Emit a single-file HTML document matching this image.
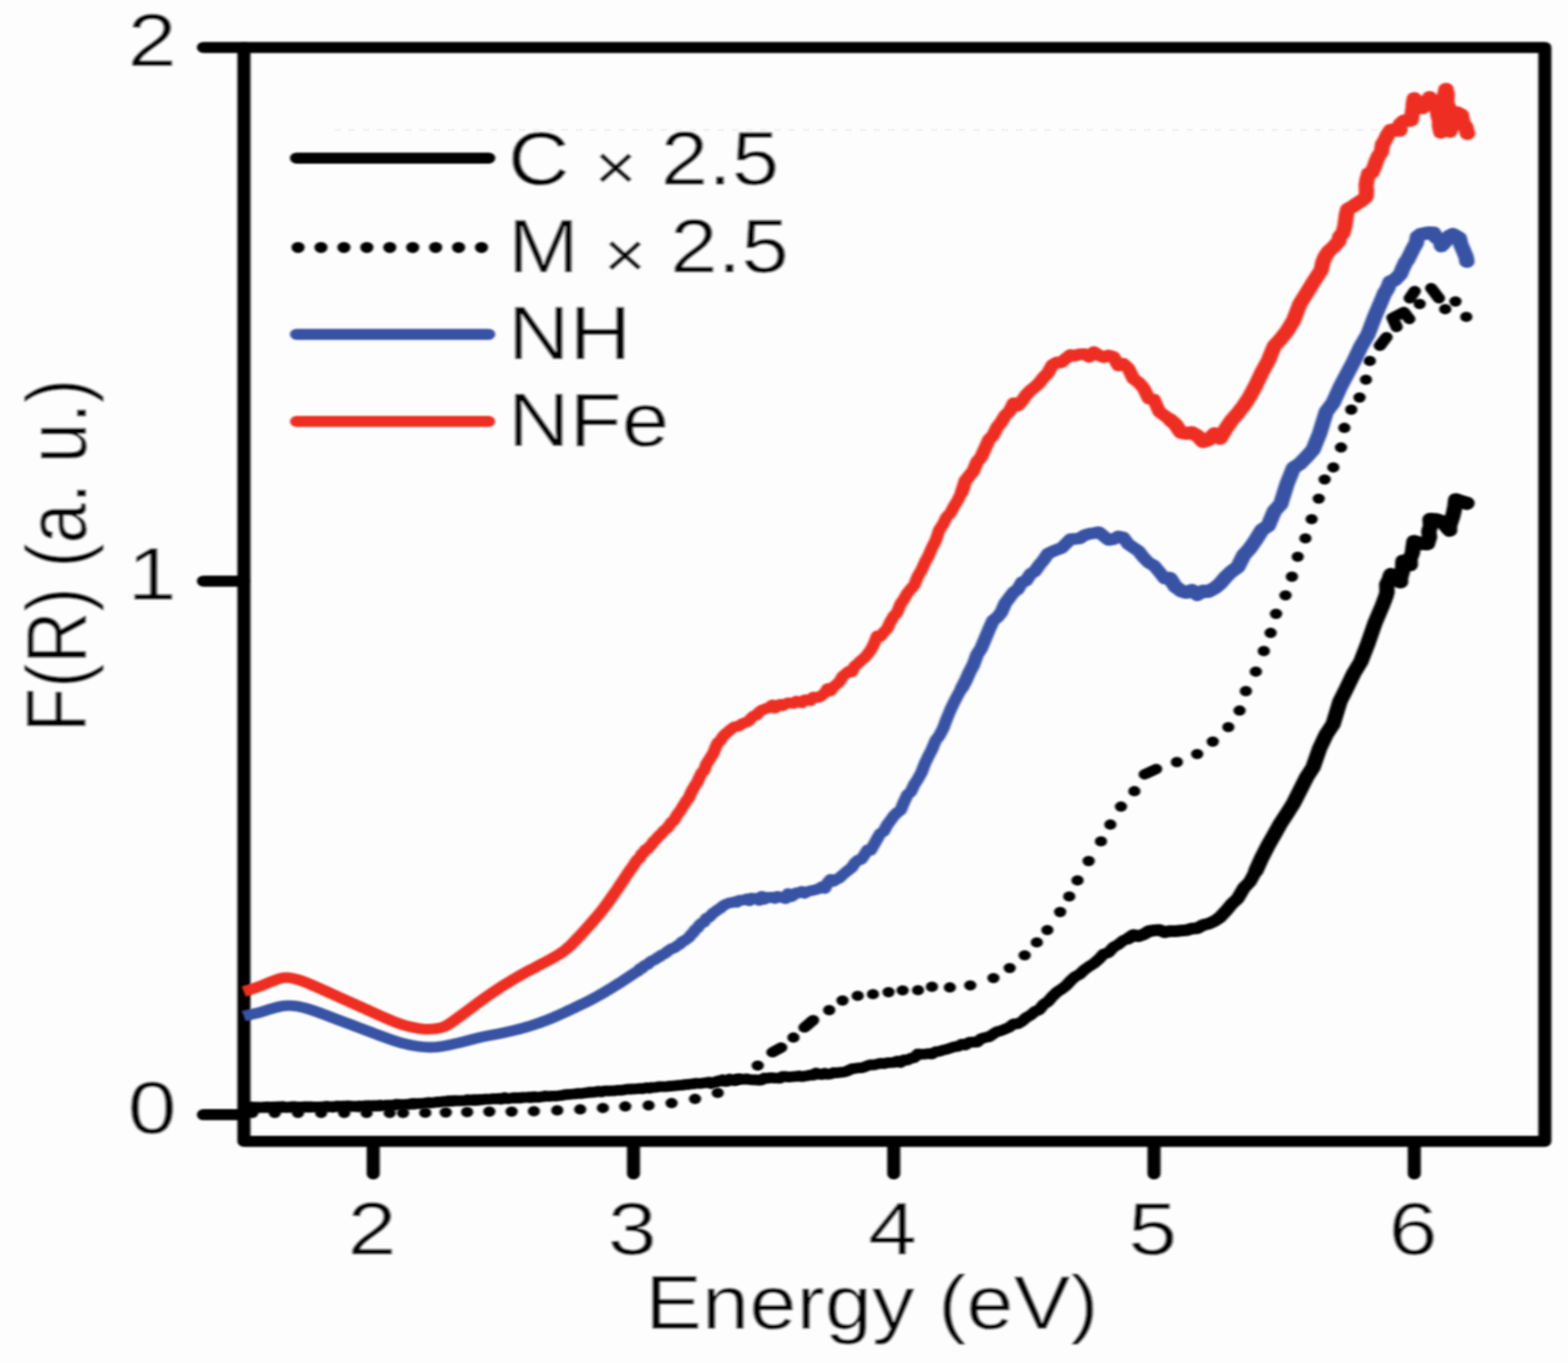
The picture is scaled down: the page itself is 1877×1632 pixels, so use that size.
<!DOCTYPE html>
<html lang="en"><head><meta charset="utf-8"><title>F(R) vs Energy</title>
<style>html,body{margin:0;padding:0;background:#fdfdfd;}body{width:1877px;height:1632px;overflow:hidden;}svg{display:block;}text{font-family:"Liberation Sans",Arial,Helvetica,sans-serif;fill:#000;stroke:#fdfdfd;stroke-width:0.5px;paint-order:fill stroke;}</style>
</head><body>
<svg width="1877" height="1632" viewBox="0 0 1877 1632">
<defs><filter id="b" x="-5%" y="-5%" width="110%" height="110%"><feGaussianBlur stdDeviation="1.18644 1.05"/></filter><filter id="b2" x="-5%" y="-5%" width="110%" height="110%"><feGaussianBlur stdDeviation="1.4 1.05"/></filter></defs>
<rect width="1877" height="1632" fill="#fdfdfd"/>
<path d="M400 155.5H1650" fill="none" stroke="#f4f4f4" stroke-width="3" stroke-dasharray="8 9"/>
<g transform="scale(1.18,1)" filter="url(#b)" fill="none" stroke-linejoin="round">
<g stroke="#000" stroke-width="13.3" stroke-linecap="round">
<rect x="247.46" y="56.80" width="1319.75" height="1309.80"/>
<path d="M378.64 1366.60 V1405.50M642.67 1366.60 V1405.50M906.69 1366.60 V1405.50M1170.72 1366.60 V1405.50M1434.75 1366.60 V1405.50M247.46 56.80 H206.36M247.46 695.80 H206.36M247.46 1334.70 H206.36"/>
</g>
<path d="M255.9 1332.6 h0.01M278.8 1332.6 h0.01M302.3 1332.6 h0.01M325.8 1332.6 h0.01M349.2 1332.6 h0.01M371.9 1332.6 h0.01M395.3 1332.6 h0.01M408.9 1332.6 h0.01M431.4 1332.4 h0.01M452.2 1332.0 h0.01M473.9 1331.5 h0.01M496.4 1331.0 h0.01M519.0 1331.0 h0.01M541.6 1330.5 h0.01M565.3 1329.5 h0.01M588.6 1328.3 h0.01M611.6 1326.7 h0.01M634.3 1324.8 h0.01M658.0 1323.6 h0.01M681.3 1320.8 h0.01M705.1 1315.8 h0.01M728.1 1308.6 h0.01M748.3 1293.0 h0.01M768.7 1275.9 h0.01M783.6 1259.9L792.5 1254.3M804.9 1242.3 h0.01M816.1 1230.3L824.9 1221.5M841.2 1209.5 h0.01M854.7 1198.0 h0.01M870.1 1192.4 h0.01M885.6 1190.4 h0.01M901.4 1188.0 h0.01M915.7 1185.9 h0.01M931.3 1185.6 h0.01M945.4 1181.5 h0.01M963.6 1182.3 h0.01M984.3 1179.9 h0.01M1007.8 1171.1 h0.01M1024.3 1159.1 h0.01M1039.5 1143.9 h0.01M1051.8 1128.4 h0.01M1062.5 1113.6 h0.01M1075.5 1092.0 h0.01M1084.7 1073.4 h0.01M1093.1 1054.2 h0.01M1104.4 1031.0 h0.01M1116.9 1007.4 h0.01M1126.4 987.3 h0.01M1137.2 965.8 h0.01M1150.8 947.3 h0.01M1161.3 927.2L1172.8 920.8M1193.9 912.5 h0.01M1214.5 902.9 h0.01M1230.3 888.0 h0.01M1246.1 870.6 h0.01M1257.5 850.8 h0.01M1263.9 827.5 h0.01M1274.0 804.2 h0.01M1282.1 779.5 h0.01M1289.0 757.8 h0.01M1294.5 735.0 h0.01M1304.1 712.9 h0.01M1310.6 690.5 h0.01M1316.5 666.6 h0.01M1324.3 644.6 h0.01M1330.6 621.6 h0.01M1337.8 597.1 h0.01M1343.8 574.1 h0.01M1352.6 559.7 h0.01M1360.4 535.8 h0.01M1363.8 512.3 h0.01M1370.8 490.5 h0.01M1379.2 476.0 h0.01M1385.7 454.6 h0.01M1389.6 432.2 h0.01M1399.8 414.0L1406.6 403.6M1416.8 391.5L1412.7 380.5L1424.2 373.5L1429.7 382.0M1430.1 357.2L1435.2 348.5M1440.2 364.0 h0.01M1451.9 345.0L1459.7 357.2M1466.1 370.2 h0.01M1476.5 361.0 h0.01M1487.5 379.4 h0.01" stroke="#000" stroke-width="12.4" stroke-linecap="round"/>
<g stroke-width="13.3" stroke-linecap="round">
<path d="M300.85 189.3H495.76" stroke="#000"/>
<path d="M302.37 296.3H488.98" stroke="#000" stroke-dasharray="0 23.263"/>
<path d="M300.85 400.3H495.76" stroke="#3953a4"/>
<path d="M300.85 504.6H495.76" stroke="#ee2e24"/>
</g>
</g>
<g transform="scale(1.18,1)" filter="url(#b)" fill="none" stroke-linejoin="round">
<path d="M247.3 1216.5L247.9 1216.3L248.4 1216.2L248.9 1216.1L249.4 1216.0L249.9 1215.8L250.3 1215.7L250.8 1215.6L251.3 1215.5L251.8 1215.4L252.3 1215.2L252.8 1215.1L253.3 1215.0L253.8 1214.9L254.3 1214.7L254.8 1214.6L255.3 1214.5L255.8 1214.3L256.3 1214.2L256.8 1214.1L257.3 1213.9L257.8 1213.8L258.3 1213.7L258.8 1213.5L259.3 1213.4L259.8 1213.3L260.3 1213.1L260.9 1213.0L261.4 1212.8L261.9 1212.7L262.4 1212.5L262.9 1212.4L263.4 1212.2L264.0 1212.0L264.5 1211.9L265.0 1211.7L265.5 1211.5L266.1 1211.3L266.6 1211.1L267.1 1210.9L267.7 1210.7L268.2 1210.5L268.7 1210.3L269.3 1210.1L269.8 1209.9L270.3 1209.7L270.9 1209.5L271.4 1209.2L271.9 1209.0L272.5 1208.8L273.0 1208.6L273.6 1208.4L274.1 1208.2L274.7 1208.0L275.2 1207.9L275.8 1207.7L276.3 1207.5L276.9 1207.3L277.4 1207.2L278.0 1207.0L278.6 1206.8L279.1 1206.6L279.7 1206.4L280.2 1206.3L280.8 1206.1L281.4 1205.9L281.9 1205.7L282.5 1205.6L283.1 1205.4L283.7 1205.3L284.2 1205.1L284.8 1205.0L285.4 1204.9L286.0 1204.7L286.5 1204.6L287.1 1204.5L287.7 1204.4L288.3 1204.4L288.9 1204.3L289.5 1204.3L290.0 1204.2L290.6 1204.2L291.2 1204.2L291.8 1204.1L292.4 1204.1L293.0 1204.1L293.6 1204.1L294.2 1204.1L294.8 1204.2L295.4 1204.2L296.0 1204.2L296.6 1204.3L297.2 1204.3L297.8 1204.4L298.5 1204.4L299.1 1204.5L299.7 1204.6L300.3 1204.7L300.9 1204.8L301.5 1204.9L302.2 1205.0L302.8 1205.1L303.4 1205.3L304.0 1205.4L304.7 1205.6L305.3 1205.7L305.9 1205.9L306.6 1206.1L307.2 1206.2L307.8 1206.4L308.5 1206.6L309.1 1206.8L309.8 1207.0L310.4 1207.3L311.1 1207.5L311.7 1207.7L312.4 1207.9L313.0 1208.2L313.7 1208.4L314.3 1208.7L315.0 1208.9L315.6 1209.2L316.3 1209.4L317.0 1209.7L317.6 1210.0L318.3 1210.2L319.0 1210.5L319.6 1210.8L320.3 1211.0L321.0 1211.3L321.7 1211.6L322.3 1211.9L323.0 1212.2L323.7 1212.5L324.4 1212.7L325.1 1213.0L325.8 1213.3L326.5 1213.7L327.1 1214.0L327.8 1214.3L328.5 1214.6L329.2 1214.9L329.9 1215.2L330.6 1215.5L331.3 1215.8L332.1 1216.2L332.8 1216.5L333.5 1216.8L334.2 1217.1L334.9 1217.5L335.6 1217.8L336.3 1218.1L337.1 1218.4L337.8 1218.8L338.5 1219.1L339.2 1219.4L340.0 1219.8L340.7 1220.1L341.4 1220.4L342.2 1220.7L342.9 1221.1L343.7 1221.4L344.4 1221.7L345.1 1222.1L345.9 1222.4L346.6 1222.7L347.4 1223.1L348.1 1223.4L348.9 1223.7L349.7 1224.1L350.4 1224.4L351.2 1224.7L352.0 1225.1L352.7 1225.4L353.5 1225.8L354.3 1226.1L355.0 1226.5L355.8 1226.8L356.6 1227.1L357.4 1227.5L358.2 1227.8L359.0 1228.2L359.8 1228.5L360.5 1228.9L361.3 1229.2L362.1 1229.6L362.9 1229.9L363.7 1230.3L364.6 1230.7L365.4 1231.0L366.2 1231.4L367.0 1231.7L367.8 1232.1L368.6 1232.5L369.4 1232.8L370.3 1233.2L371.1 1233.6L371.9 1234.0L372.7 1234.3L373.6 1234.7L374.4 1235.1L375.3 1235.5L376.1 1235.8L376.9 1236.2L377.8 1236.6L378.6 1237.0L379.5 1237.4L380.4 1237.7L381.2 1238.1L382.1 1238.5L382.9 1238.9L383.8 1239.3L384.7 1239.7L385.5 1240.1L386.4 1240.4L387.3 1240.8L388.2 1241.2L389.1 1241.6L390.0 1242.0L390.8 1242.3L391.7 1242.7L392.6 1243.1L393.5 1243.5L394.4 1243.8L395.3 1244.2L396.2 1244.6L397.2 1245.0L398.1 1245.4L399.0 1245.7L399.9 1246.1L400.8 1246.5L401.8 1246.8L402.7 1247.2L403.6 1247.5L404.6 1247.8L405.5 1248.2L406.4 1248.5L407.4 1248.8L408.3 1249.1L409.3 1249.4L410.2 1249.6L411.2 1249.9L412.2 1250.2L413.1 1250.5L414.1 1250.7L415.1 1251.0L416.0 1251.2L417.0 1251.5L418.0 1251.7L419.0 1251.9L420.0 1252.1L421.0 1252.3L422.0 1252.5L423.0 1252.7L424.0 1252.8L425.0 1253.0L426.0 1253.1L427.0 1253.3L428.0 1253.4L429.0 1253.5L430.0 1253.6L431.1 1253.7L432.1 1253.8L433.1 1253.9L434.2 1253.9L435.2 1254.0L436.3 1254.0L437.3 1254.0L438.4 1254.0L439.4 1253.9L440.5 1253.9L441.6 1253.8L442.6 1253.7L443.7 1253.6L444.8 1253.4L445.9 1253.3L446.9 1253.1L448.0 1252.9L449.1 1252.7L450.2 1252.5L451.3 1252.2L452.4 1252.0L453.5 1251.7L454.6 1251.5L455.8 1251.2L456.9 1250.9L458.0 1250.6L459.1 1250.3L460.3 1250.0L461.4 1249.7L462.5 1249.4L463.7 1249.1L464.8 1248.8L466.0 1248.5L467.1 1248.2L468.3 1247.8L469.5 1247.5L470.7 1247.1L471.8 1246.8L473.0 1246.4L474.2 1246.0L475.4 1245.7L476.6 1245.3L477.8 1244.9L479.0 1244.5L480.2 1244.2L481.4 1243.8L482.6 1243.4L483.8 1243.1L485.1 1242.7L486.3 1242.4L487.5 1242.0L488.8 1241.7L490.0 1241.4L491.3 1241.1L492.5 1240.8L493.8 1240.5L495.1 1240.2L496.3 1239.9L497.6 1239.6L498.9 1239.3L500.2 1239.1L501.5 1238.8L502.8 1238.5L504.1 1238.2L505.4 1237.9L506.7 1237.6L508.0 1237.3L509.3 1237.0L510.7 1236.6L512.0 1236.3L513.3 1235.9L514.7 1235.6L516.0 1235.2L517.4 1234.8L518.7 1234.5L520.1 1234.1L521.5 1233.7L522.9 1233.3L524.2 1232.9L525.6 1232.5L527.0 1232.1L528.4 1231.6L529.8 1231.2L531.2 1230.7L532.7 1230.3L534.1 1229.8L535.5 1229.3L536.9 1228.7L538.4 1228.2L539.8 1227.7L541.3 1227.1L542.8 1226.5L544.2 1226.0L545.7 1225.4L547.2 1224.7L548.7 1224.1L550.1 1223.5L551.6 1222.8L553.2 1222.2L554.7 1221.5L556.2 1220.8L557.7 1220.1L559.2 1219.3L560.8 1218.6L562.3 1217.8L563.9 1217.0L565.4 1216.2L567.0 1215.4L568.6 1214.6L570.1 1213.7L571.7 1212.9L573.3 1212.0L574.9 1211.1L576.5 1210.2L578.1 1209.3L579.8 1208.4L581.4 1207.5L583.0 1206.6L584.7 1205.6L586.3 1204.7L588.0 1203.8L589.6 1202.8L591.3 1201.9L593.0 1200.9L594.7 1199.9L596.4 1198.9L598.1 1197.9L599.8 1196.9L601.5 1195.8L603.2 1194.7L605.0 1193.6L606.7 1192.5L608.4 1191.3L610.2 1190.1L612.0 1188.9L613.7 1187.7L615.5 1186.4L617.3 1185.2L619.1 1183.9L620.9 1182.6L622.7 1181.2L624.6 1179.9L626.4 1178.5L628.2 1177.2L630.1 1175.8L632.0 1174.4L633.8 1172.9L635.7 1171.5L637.6 1170.0L639.5 1168.5L641.4 1166.9L643.3 1165.4L645.2 1163.9L647.2 1163.1L649.1 1159.9L651.1 1159.6L653.0 1157.0L655.0 1155.3L657.0 1155.1L659.0 1152.3L661.0 1150.6L663.0 1149.7L665.0 1148.7L667.0 1146.6L669.1 1145.8L671.1 1143.4L673.2 1142.6L675.3 1141.1L677.3 1139.0L679.4 1137.4L681.5 1135.7L683.7 1135.1L685.8 1133.5L687.9 1131.7L690.1 1130.2L692.2 1127.4L694.4 1126.3L696.6 1124.4L698.8 1122.6L701.0 1119.1L703.2 1116.8L705.4 1113.0L707.6 1111.3L709.9 1107.3L712.1 1105.1L714.4 1104.1L716.7 1099.2L719.0 1098.8L721.3 1096.0L723.6 1093.1L726.0 1091.3L728.3 1089.2L730.7 1087.6L733.1 1085.0L735.4 1083.3L737.8 1082.1L740.2 1080.9L742.7 1080.9L745.1 1079.7L747.6 1080.5L750.0 1077.9L752.5 1077.9L755.0 1077.5L757.5 1076.3L760.0 1078.7L762.5 1075.3L765.1 1076.2L767.7 1075.6L770.2 1078.1L772.8 1073.1L775.4 1076.8L778.0 1074.3L780.7 1074.9L783.3 1074.1L786.0 1075.7L788.7 1073.2L791.4 1074.4L794.1 1074.6L796.8 1076.1L799.6 1069.8L802.3 1073.9L805.1 1072.0L807.9 1068.9L810.7 1069.0L813.5 1067.3L816.3 1069.6L819.2 1067.5L822.1 1066.6L825.0 1066.0L827.9 1065.2L830.8 1064.1L833.8 1061.7L836.7 1063.9L839.7 1057.0L842.7 1052.8L845.7 1055.2L848.7 1052.9L851.8 1051.1L854.9 1047.6L858.0 1044.4L861.1 1041.5L864.2 1038.7L867.3 1033.2L870.5 1029.7L873.7 1029.1L876.9 1023.6L880.1 1017.7L883.4 1017.9L886.6 1011.3L889.9 1004.2L893.2 997.8L896.6 995.3L899.9 988.0L903.3 982.6L906.7 977.0L910.1 973.0L913.6 970.1L917.0 960.5L920.5 951.6L924.0 948.2L927.5 939.4L931.1 932.8L934.7 925.3L938.3 914.1L941.9 905.4L945.5 897.1L949.2 886.5L952.9 880.9L956.6 872.7L960.4 860.8L964.2 850.0L968.0 840.6L971.8 832.0L975.7 823.8" stroke="#3953a4" stroke-width="12.8" stroke-linecap="butt"/>
<path d="M975.7 823.8L979.5 815.5L983.4 805.2L987.4 796.2L991.3 783.6L995.3 776.3L999.3 765.1L1003.4 753.5L1007.5 742.9L1011.6 739.2L1015.7 733.4L1019.8 722.3L1024.0 715.7L1028.3 709.1L1032.5 705.6L1036.8 697.1L1041.1 695.1L1045.5 687.2L1049.8 684.1L1054.2 676.8L1058.7 670.5L1063.2 662.8L1067.7 660.3L1072.2 658.2L1076.8 656.3L1081.4 651.0L1086.0 645.6L1090.7 645.3L1095.4 644.6L1100.2 640.9L1105.0 639.2L1109.8 638.3L1114.7 637.2L1119.6 641.8L1124.5 646.6L1129.5 645.7L1134.5 642.2L1139.5 643.5L1144.6 651.6L1149.8 655.7L1154.9 659.8L1160.2 667.6L1165.4 673.9L1170.7 677.2L1176.1 684.8L1181.5 692.7L1186.9 692.4" stroke="#3953a4" stroke-width="14" stroke-linecap="round"/>
<path d="M1186.9 692.4L1192.4 702.4L1197.9 707.3L1203.5 709.3L1209.1 706.9L1214.7 711.9L1220.4 707.9L1226.2 708.1L1232.0 704.3L1237.8 698.8L1243.7 690.6L1249.7 683.9L1255.7 678.9L1261.8 664.6L1267.9 656.7L1274.0 646.4L1280.3 634.4L1286.5 629.6L1292.8 611.8L1299.2 603.7L1305.7 579.3L1312.2 560.2L1318.7 555.3L1325.3 547.3L1332.0 538.6L1338.7 519.0L1345.5 492.9L1352.4 482.2L1359.3 464.2L1366.3 448.4L1373.3 432.9L1380.5 415.0L1387.6 400.8L1394.9 378.1L1402.5 357.2L1404.8 350.7L1407.5 345.7L1410.3 337.3L1414.8 335.3L1420.7 328.1L1422.5 322.7L1425.8 314.3L1427.9 311.0L1431.1 303.7L1433.6 297.5L1436.8 291.0L1438.0 283.4L1441.4 280.6L1448.9 278.9L1454.4 279.1L1456.6 284.2L1461.1 286.9L1462.2 294.4L1466.3 289.2L1470.4 282.7L1473.9 280.6L1480.4 285.2L1482.1 293.3L1484.3 299.0L1487.4 308.1L1488.1 312.8" stroke="#3953a4" stroke-width="15.6" stroke-linecap="round"/>
<path d="M1488.1 312.8 h0.01" stroke="#3953a4" stroke-width="15.6" stroke-linecap="round"/>
<path d="M247.3 1187.3L247.9 1187.1L248.4 1186.9L248.9 1186.7L249.4 1186.5L249.9 1186.3L250.3 1186.2L250.8 1186.0L251.3 1185.8L251.8 1185.6L252.3 1185.4L252.8 1185.2L253.3 1185.1L253.8 1184.9L254.3 1184.7L254.8 1184.5L255.3 1184.3L255.8 1184.1L256.3 1183.9L256.8 1183.7L257.3 1183.5L257.8 1183.3L258.3 1183.2L258.8 1183.0L259.3 1182.8L259.8 1182.6L260.3 1182.3L260.9 1182.1L261.4 1181.9L261.9 1181.7L262.4 1181.5L262.9 1181.3L263.4 1181.1L264.0 1180.8L264.5 1180.6L265.0 1180.4L265.5 1180.1L266.1 1179.9L266.6 1179.6L267.1 1179.3L267.7 1179.1L268.2 1178.8L268.7 1178.5L269.3 1178.3L269.8 1178.0L270.3 1177.7L270.9 1177.4L271.4 1177.2L271.9 1176.9L272.5 1176.6L273.0 1176.3L273.6 1176.1L274.1 1175.8L274.7 1175.6L275.2 1175.3L275.8 1175.1L276.3 1174.9L276.9 1174.6L277.4 1174.4L278.0 1174.2L278.6 1173.9L279.1 1173.7L279.7 1173.4L280.2 1173.2L280.8 1172.9L281.4 1172.7L281.9 1172.4L282.5 1172.2L283.1 1172.0L283.7 1171.8L284.2 1171.6L284.8 1171.4L285.4 1171.2L286.0 1171.1L286.5 1170.9L287.1 1170.8L287.7 1170.7L288.3 1170.7L288.9 1170.6L289.5 1170.6L290.0 1170.6L290.6 1170.6L291.2 1170.6L291.8 1170.6L292.4 1170.7L293.0 1170.7L293.6 1170.8L294.2 1170.9L294.8 1171.0L295.4 1171.1L296.0 1171.2L296.6 1171.4L297.2 1171.5L297.8 1171.7L298.5 1171.9L299.1 1172.0L299.7 1172.2L300.3 1172.4L300.9 1172.6L301.5 1172.8L302.2 1173.0L302.8 1173.2L303.4 1173.4L304.0 1173.7L304.7 1173.9L305.3 1174.1L305.9 1174.4L306.6 1174.7L307.2 1174.9L307.8 1175.2L308.5 1175.5L309.1 1175.8L309.8 1176.1L310.4 1176.4L311.1 1176.7L311.7 1177.0L312.4 1177.4L313.0 1177.7L313.7 1178.0L314.3 1178.4L315.0 1178.7L315.6 1179.0L316.3 1179.4L317.0 1179.7L317.6 1180.1L318.3 1180.4L319.0 1180.7L319.6 1181.1L320.3 1181.4L321.0 1181.8L321.7 1182.1L322.3 1182.5L323.0 1182.8L323.7 1183.2L324.4 1183.5L325.1 1183.9L325.8 1184.2L326.5 1184.6L327.1 1185.0L327.8 1185.3L328.5 1185.7L329.2 1186.1L329.9 1186.4L330.6 1186.8L331.3 1187.2L332.1 1187.6L332.8 1188.0L333.5 1188.3L334.2 1188.7L334.9 1189.1L335.6 1189.5L336.3 1189.9L337.1 1190.3L337.8 1190.6L338.5 1191.0L339.2 1191.4L340.0 1191.8L340.7 1192.2L341.4 1192.6L342.2 1193.0L342.9 1193.4L343.7 1193.8L344.4 1194.2L345.1 1194.6L345.9 1195.0L346.6 1195.4L347.4 1195.8L348.1 1196.2L348.9 1196.6L349.7 1197.0L350.4 1197.4L351.2 1197.8L352.0 1198.2L352.7 1198.6L353.5 1199.0L354.3 1199.4L355.0 1199.8L355.8 1200.2L356.6 1200.7L357.4 1201.1L358.2 1201.5L359.0 1201.9L359.8 1202.3L360.5 1202.8L361.3 1203.2L362.1 1203.6L362.9 1204.0L363.7 1204.5L364.6 1204.9L365.4 1205.3L366.2 1205.8L367.0 1206.2L367.8 1206.6L368.6 1207.1L369.4 1207.5L370.3 1207.9L371.1 1208.4L371.9 1208.8L372.7 1209.3L373.6 1209.7L374.4 1210.2L375.3 1210.6L376.1 1211.1L376.9 1211.5L377.8 1212.0L378.6 1212.4L379.5 1212.9L380.4 1213.4L381.2 1213.8L382.1 1214.3L382.9 1214.7L383.8 1215.2L384.7 1215.6L385.5 1216.1L386.4 1216.6L387.3 1217.0L388.2 1217.5L389.1 1217.9L390.0 1218.4L390.8 1218.8L391.7 1219.3L392.6 1219.7L393.5 1220.2L394.4 1220.6L395.3 1221.1L396.2 1221.6L397.2 1222.0L398.1 1222.5L399.0 1222.9L399.9 1223.4L400.8 1223.8L401.8 1224.2L402.7 1224.6L403.6 1225.0L404.6 1225.4L405.5 1225.8L406.4 1226.2L407.4 1226.6L408.3 1226.9L409.3 1227.3L410.2 1227.6L411.2 1227.9L412.2 1228.2L413.1 1228.5L414.1 1228.8L415.1 1229.1L416.0 1229.4L417.0 1229.6L418.0 1229.9L419.0 1230.1L420.0 1230.4L421.0 1230.6L422.0 1230.8L423.0 1231.1L424.0 1231.3L425.0 1231.5L426.0 1231.7L427.0 1231.8L428.0 1232.0L429.0 1232.1L430.0 1232.2L431.1 1232.3L432.1 1232.3L433.1 1232.3L434.2 1232.3L435.2 1232.3L436.3 1232.2L437.3 1232.2L438.4 1232.1L439.4 1232.0L440.5 1231.9L441.6 1231.8L442.6 1231.6L443.7 1231.4L444.8 1231.2L445.9 1230.9L446.9 1230.7L448.0 1230.3L449.1 1229.9L450.2 1229.4L451.3 1228.9L452.4 1228.3L453.5 1227.6L454.6 1226.8L455.8 1226.0L456.9 1225.1L458.0 1224.2L459.1 1223.3L460.3 1222.4L461.4 1221.5L462.5 1220.5L463.7 1219.5L464.8 1218.5L466.0 1217.5L467.1 1216.5L468.3 1215.5L469.5 1214.5L470.7 1213.4L471.8 1212.4L473.0 1211.3L474.2 1210.3L475.4 1209.3L476.6 1208.2L477.8 1207.2L479.0 1206.1L480.2 1205.1L481.4 1204.0L482.6 1202.9L483.8 1201.9L485.1 1200.8L486.3 1199.7L487.5 1198.6L488.8 1197.6L490.0 1196.5L491.3 1195.4L492.5 1194.4L493.8 1193.3L495.1 1192.3L496.3 1191.2L497.6 1190.2L498.9 1189.2L500.2 1188.1L501.5 1187.1L502.8 1186.1L504.1 1185.1L505.4 1184.1L506.7 1183.0L508.0 1182.0L509.3 1181.0L510.7 1180.0L512.0 1179.0L513.3 1178.1L514.7 1177.1L516.0 1176.1L517.4 1175.1L518.7 1174.2L520.1 1173.2L521.5 1172.2L522.9 1171.3L524.2 1170.3L525.6 1169.4L527.0 1168.4L528.4 1167.5L529.8 1166.6L531.2 1165.7L532.7 1164.7L534.1 1163.8L535.5 1162.9L536.9 1162.0L538.4 1161.1L539.8 1160.3L541.3 1159.4L542.8 1158.5L544.2 1157.5L545.7 1156.6L547.2 1155.7L548.7 1154.8L550.1 1153.8L551.6 1152.9L553.2 1152.0L554.7 1151.1L556.2 1150.1L557.7 1149.2L559.2 1148.2L560.8 1147.2L562.3 1146.2L563.9 1145.1L565.4 1144.0L567.0 1142.9L568.6 1141.7L570.1 1140.4L571.7 1139.1L573.3 1137.7L574.9 1136.2L576.5 1134.5L578.1 1132.8L579.8 1131.0L581.4 1129.0L583.0 1127.0L584.7 1125.0L586.3 1122.9L588.0 1120.9L589.6 1118.8L591.3 1116.6L593.0 1114.4L594.7 1112.2L596.4 1110.0L598.1 1107.7L599.8 1105.4L601.5 1103.1L603.2 1100.7L605.0 1098.4L606.7 1096.0L608.4 1093.5L610.2 1091.0L612.0 1088.3L613.7 1085.6L615.5 1082.8L617.3 1079.9L619.1 1076.9L620.9 1073.9L622.7 1070.8L624.6 1067.7L626.4 1064.6L628.2 1061.3L630.1 1058.0L632.0 1054.7L633.8 1051.4L635.7 1048.1L637.6 1044.8L639.5 1041.6L641.4 1038.4L643.3 1035.4L645.2 1031.6L647.2 1028.8L649.1 1027.2L651.1 1022.4L653.0 1021.2L655.0 1017.0L657.0 1016.7L659.0 1013.4L661.0 1011.6L663.0 1007.7L665.0 1005.8L667.0 1002.9L669.1 1000.2L671.1 998.5L673.2 995.1L675.3 993.1L677.3 991.1L679.4 987.6L681.5 984.2L683.7 982.8L685.8 978.0L687.9 974.1L690.1 971.0L692.2 966.7L694.4 962.8L696.6 958.5L698.8 955.5L701.0 949.3L703.2 944.5L705.4 940.1L707.6 936.3L709.9 930.0L712.1 925.0L714.4 922.4L716.7 914.8L719.0 910.7L721.3 906.3L723.6 902.3L726.0 894.9L728.3 889.1L730.7 887.1L733.1 882.6L735.4 879.4L737.8 877.1L740.2 874.5L742.7 872.3L745.1 870.1L747.6 870.0L750.0 869.0L752.5 866.9L755.0 865.5L757.5 864.9L760.0 862.8L762.5 859.4L765.1 857.0L767.7 856.3L770.2 852.5L772.8 850.2L775.4 849.4L778.0 848.0L780.7 847.2L783.3 844.0L786.0 848.1L788.7 845.5L791.4 843.3L794.1 844.9L796.8 843.0L799.6 841.5L802.3 841.8L805.1 842.4L807.9 839.4L810.7 840.5L813.5 841.6L816.3 837.9L819.2 838.4L822.1 839.1L825.0 834.6L827.9 834.8L830.8 835.0L833.8 832.7L836.7 829.9L839.7 824.4L842.7 827.3L845.7 822.2L848.7 819.5L851.8 816.0L854.9 809.9L858.0 806.9L861.1 803.8L864.2 804.5L867.3 797.4L870.5 794.5L873.7 790.7L876.9 787.8L880.1 783.4L883.4 778.3L886.6 771.2L889.9 761.4L893.2 762.2L896.6 756.9L899.9 753.1L903.3 744.7L906.7 737.8L910.1 733.5L913.6 723.3L917.0 717.5L920.5 710.4L924.0 705.2L927.5 700.7L931.1 690.1L934.7 683.0L938.3 673.5L941.9 665.7L945.5 655.9L949.2 647.4L952.9 634.5L956.6 628.0L960.4 619.0L964.2 614.4L968.0 606.0L971.8 598.6L975.7 589.3" stroke="#ee2e24" stroke-width="12.8" stroke-linecap="butt"/>
<path d="M975.7 589.3L979.5 575.4L983.4 569.7L987.4 564.0L991.3 552.9L995.3 547.5L999.3 537.1L1003.4 526.2L1007.5 521.4L1011.6 511.6L1015.7 505.5L1019.8 497.4L1024.0 492.8L1028.3 482.8L1032.5 485.9L1036.8 480.1L1041.1 472.9L1045.5 467.4L1049.8 463.6L1054.2 458.7L1058.7 452.0L1063.2 446.6L1067.7 437.1L1072.2 434.0L1076.8 433.9L1081.4 429.2L1086.0 425.1L1090.7 425.9L1095.4 424.2L1100.2 423.9L1105.0 427.3L1109.8 421.5L1114.7 425.4L1119.6 427.7L1124.5 425.6L1129.5 427.1L1134.5 437.7L1139.5 435.6L1144.6 441.0L1149.8 453.5L1154.9 457.8L1160.2 464.9L1165.4 477.2L1170.7 478.6L1176.1 493.1L1181.5 497.7L1186.9 502.5" stroke="#ee2e24" stroke-width="14" stroke-linecap="round"/>
<path d="M1186.9 502.5L1192.4 508.1L1197.9 517.6L1203.5 519.0L1209.1 518.0L1214.7 521.7L1220.4 528.7L1226.2 526.6L1232.0 519.3L1237.8 524.9L1243.7 513.3L1249.7 503.0L1255.7 495.0L1261.8 485.8L1267.9 474.8L1274.0 461.3L1280.3 445.6L1286.5 432.3L1292.8 414.3L1299.2 406.1L1305.7 396.4L1312.2 383.8L1318.7 363.9L1325.3 351.5L1332.0 338.6L1340.4 323.3L1341.9 314.3L1344.5 306.9L1347.7 301.3L1353.3 295.3L1358.1 289.0L1359.1 283.6L1362.5 278.8L1364.3 270.6L1365.2 263.6L1365.8 257.4L1367.3 250.5L1372.8 247.0L1377.5 243.0L1381.5 240.1L1385.8 235.6L1386.3 229.0L1385.9 222.0L1386.9 214.8L1388.5 208.1L1391.7 206.8L1394.7 198.2L1396.3 192.7L1398.2 187.6L1401.5 181.4L1402.5 173.1L1405.2 167.7L1407.8 161.3L1410.8 156.0L1414.8 155.6L1420.2 156.0L1420.6 148.8L1424.3 145.0L1431.6 143.7L1432.7 135.9L1433.6 129.0L1433.7 125.0L1434.7 118.0L1438.0 122.5L1443.0 129.0L1448.5 121.9L1450.3 116.8L1453.3 122.1L1457.5 129.0L1458.6 136.3L1460.4 144.8L1460.3 150.5L1461.7 158.4L1461.3 148.9L1462.6 144.8L1464.0 137.5L1465.4 128.8L1467.0 120.9L1465.6 113.7L1466.9 107.0L1468.3 114.0L1467.5 122.0L1469.5 128.4L1469.0 137.2L1470.6 144.2L1469.8 150.4L1471.0 157.2L1473.7 147.3L1476.8 142.6L1478.3 135.1L1482.5 137.6L1484.3 148.2L1486.8 151.3L1488.7 159.7" stroke="#ee2e24" stroke-width="15.6" stroke-linecap="round"/>
<path d="M1488.7 159.7 h0.01" stroke="#ee2e24" stroke-width="15.6" stroke-linecap="round"/>
<path d="M247.5 1326.1L247.9 1326.0L248.4 1326.2L248.9 1326.0L249.4 1326.0L249.9 1325.8L250.3 1326.0L250.8 1326.4L251.3 1326.2L251.8 1326.4L252.3 1326.1L252.8 1326.1L253.3 1326.1L253.8 1325.5L254.3 1326.3L254.8 1326.2L255.3 1326.1L255.8 1325.5L256.3 1325.5L256.8 1325.7L257.3 1325.8L257.8 1326.1L258.3 1326.0L258.8 1326.1L259.3 1325.8L259.8 1326.0L260.3 1326.1L260.9 1325.7L261.4 1326.4L261.9 1326.1L262.4 1326.3L262.9 1325.7L263.4 1325.7L264.0 1325.8L264.5 1325.9L265.0 1326.1L265.5 1326.0L266.1 1325.8L266.6 1325.6L267.1 1325.7L267.7 1326.2L268.2 1325.6L268.7 1325.9L269.3 1326.0L269.8 1325.4L270.3 1325.9L270.9 1326.2L271.4 1325.2L271.9 1325.7L272.5 1325.8L273.0 1325.6L273.6 1326.0L274.1 1325.8L274.7 1325.4L275.2 1326.0L275.8 1326.0L276.3 1326.1L276.9 1326.2L277.4 1325.9L278.0 1325.8L278.6 1325.4L279.1 1325.9L279.7 1325.6L280.2 1325.6L280.8 1325.4L281.4 1325.5L281.9 1325.6L282.5 1326.1L283.1 1325.1L283.7 1325.3L284.2 1325.8L284.8 1326.1L285.4 1325.9L286.0 1325.1L286.5 1324.9L287.1 1325.8L287.7 1325.5L288.3 1325.3L288.9 1326.0L289.5 1326.0L290.0 1325.7L290.6 1325.7L291.2 1325.8L291.8 1326.1L292.4 1325.8L293.0 1325.8L293.6 1325.8L294.2 1325.1L294.8 1326.0L295.4 1325.9L296.0 1325.8L296.6 1325.0L297.2 1325.4L297.8 1325.8L298.5 1325.0L299.1 1325.5L299.7 1325.9L300.3 1325.2L300.9 1326.0L301.5 1325.7L302.2 1325.5L302.8 1325.6L303.4 1325.7L304.0 1325.5L304.7 1325.8L305.3 1325.3L305.9 1325.4L306.6 1325.8L307.2 1325.5L307.8 1325.2L308.5 1325.7L309.1 1325.9L309.8 1325.3L310.4 1325.0L311.1 1325.4L311.7 1325.4L312.4 1325.3L313.0 1325.8L313.7 1325.1L314.3 1325.8L315.0 1325.0L315.6 1325.1L316.3 1325.6L317.0 1325.7L317.6 1325.6L318.3 1325.4L319.0 1325.4L319.6 1325.4L320.3 1325.5L321.0 1325.3L321.7 1325.4L322.3 1325.5L323.0 1325.3L323.7 1325.5L324.4 1325.4L325.1 1325.9L325.8 1325.3L326.5 1325.1L327.1 1325.1L327.8 1325.2L328.5 1325.5L329.2 1325.1L329.9 1325.3L330.6 1325.7L331.3 1324.4L332.1 1324.8L332.8 1325.2L333.5 1325.3L334.2 1325.2L334.9 1325.0L335.6 1325.3L336.3 1325.2L337.1 1324.9L337.8 1325.8L338.5 1325.2L339.2 1324.9L340.0 1325.0L340.7 1324.9L341.4 1325.0L342.2 1324.2L342.9 1324.8L343.7 1325.3L344.4 1324.6L345.1 1324.9L345.9 1325.2L346.6 1325.2L347.4 1325.3L348.1 1324.4L348.9 1324.8L349.7 1324.8L350.4 1325.0L351.2 1325.2L352.0 1324.0L352.7 1325.1L353.5 1324.3L354.3 1325.0L355.0 1324.3L355.8 1324.8L356.6 1325.1L357.4 1324.7L358.2 1324.7L359.0 1324.9L359.8 1324.7L360.5 1324.6L361.3 1325.1L362.1 1324.9L362.9 1324.5L363.7 1325.4L364.6 1324.2L365.4 1324.8L366.2 1324.4L367.0 1324.5L367.8 1324.7L368.6 1324.5L369.4 1324.6L370.3 1323.9L371.1 1323.9L371.9 1324.5L372.7 1324.0L373.6 1324.0L374.4 1323.8L375.3 1324.6L376.1 1324.4L376.9 1324.6L377.8 1323.9L378.6 1324.1L379.5 1323.7L380.4 1324.3L381.2 1324.5L382.1 1323.7L382.9 1324.4L383.8 1324.2L384.7 1323.8L385.5 1323.3L386.4 1324.2L387.3 1323.7L388.2 1323.6L389.1 1323.8L390.0 1323.8L390.8 1324.1L391.7 1323.3L392.6 1323.9L393.5 1323.9L394.4 1323.9L395.3 1323.3L396.2 1323.1L397.2 1323.6L398.1 1323.3L399.0 1323.2L399.9 1323.6L400.8 1323.0L401.8 1322.3L402.7 1322.8L403.6 1322.3L404.6 1323.1L405.5 1322.9L406.4 1322.5L407.4 1322.7L408.3 1322.8L409.3 1322.6L410.2 1322.9L411.2 1322.4L412.2 1322.6L413.1 1322.7L414.1 1322.7L415.1 1321.9L416.0 1322.3L417.0 1321.4L418.0 1321.6L419.0 1321.2L420.0 1322.1L421.0 1321.3L422.0 1321.6L423.0 1321.4L424.0 1321.4L425.0 1321.2L426.0 1321.3L427.0 1321.7L428.0 1321.1L429.0 1321.2L430.0 1321.2L431.1 1320.8L432.1 1320.4L433.1 1320.5L434.2 1320.9L435.2 1320.0L436.3 1320.2L437.3 1320.6L438.4 1320.4L439.4 1320.1L440.5 1320.2L441.6 1320.0L442.6 1319.5L443.7 1319.3L444.8 1319.4L445.9 1319.8L446.9 1319.3L448.0 1319.1L449.1 1319.0L450.2 1318.7L451.3 1319.0L452.4 1318.6L453.5 1319.0L454.6 1318.1L455.8 1318.8L456.9 1318.4L458.0 1317.9L459.1 1318.6L460.3 1318.3L461.4 1317.6L462.5 1317.9L463.7 1318.2L464.8 1317.9L466.0 1318.1L467.1 1318.1L468.3 1317.9L469.5 1317.8L470.7 1318.0L471.8 1317.7L473.0 1317.6L474.2 1316.7L475.4 1317.6L476.6 1317.6L477.8 1317.0L479.0 1316.9L480.2 1317.6L481.4 1316.4L482.6 1317.0L483.8 1317.5L485.1 1316.4L486.3 1316.8L487.5 1317.1L488.8 1316.4L490.0 1316.6L491.3 1316.6L492.5 1316.0L493.8 1316.2L495.1 1316.2L496.3 1316.3L497.6 1316.0L498.9 1315.8L500.2 1315.5L501.5 1315.6L502.8 1315.9L504.1 1315.6L505.4 1315.3L506.7 1315.2L508.0 1316.2L509.3 1315.7L510.7 1315.4L512.0 1314.4L513.3 1315.3L514.7 1315.2L516.0 1315.5L517.4 1315.0L518.7 1314.8L520.1 1314.9L521.5 1314.1L522.9 1314.9L524.2 1314.6L525.6 1314.2L527.0 1314.8L528.4 1314.8L529.8 1313.8L531.2 1313.9L532.7 1314.1L534.1 1314.0L535.5 1313.8L536.9 1313.5L538.4 1314.4L539.8 1314.0L541.3 1313.2L542.8 1313.1L544.2 1313.9L545.7 1313.6L547.2 1313.8L548.7 1313.4L550.1 1312.8L551.6 1313.1L553.2 1312.2L554.7 1312.6L556.2 1312.7L557.7 1312.8L559.2 1312.3L560.8 1312.4L562.3 1312.4L563.9 1312.3L565.4 1312.3L567.0 1312.0L568.6 1311.7L570.1 1311.6L571.7 1311.1L573.3 1310.6L574.9 1310.5L576.5 1310.5L578.1 1310.3L579.8 1310.2L581.4 1310.0L583.0 1309.8L584.7 1309.6L586.3 1309.1L588.0 1309.4L589.6 1309.4L591.3 1309.1L593.0 1308.7L594.7 1308.7L596.4 1308.1L598.1 1307.7L599.8 1308.1L601.5 1307.6L603.2 1307.9L605.0 1307.2L606.7 1306.6L608.4 1306.9L610.2 1307.5L612.0 1306.7L613.7 1306.2L615.5 1306.2L617.3 1306.4L619.1 1306.2L620.9 1306.0L622.7 1306.2L624.6 1305.8L626.4 1305.4L628.2 1305.4L630.1 1305.5L632.0 1305.1L633.8 1304.9L635.7 1304.1L637.6 1304.2L639.5 1304.3L641.4 1303.8L643.3 1304.0L645.2 1303.7L647.2 1303.6L649.1 1303.1L651.1 1303.7L653.0 1303.2L655.0 1302.5L657.0 1302.5L659.0 1303.0L661.0 1302.0L663.0 1302.2L665.0 1302.0L667.0 1301.5L669.1 1301.0L671.1 1301.2L673.2 1301.1L675.3 1301.1L677.3 1300.8L679.4 1300.4L681.5 1300.5L683.7 1300.2L685.8 1299.9L687.9 1299.6L690.1 1299.3L692.2 1299.4L694.4 1298.6L696.6 1298.5L698.8 1298.5L701.0 1297.8L703.2 1297.9L705.4 1297.1L707.6 1297.2L709.9 1297.3L712.1 1297.1L714.4 1296.6L716.7 1296.2L719.0 1295.6L721.3 1297.4L723.6 1295.9L726.0 1296.2L728.3 1294.1L730.7 1294.5L733.1 1292.8L735.4 1294.9L737.8 1294.8L740.2 1292.1L742.7 1293.6L745.1 1294.1L747.6 1291.8L750.0 1291.6L752.5 1292.1L755.0 1292.4L757.5 1291.6L760.0 1292.7L762.5 1292.8L765.1 1293.0L767.7 1292.9L770.2 1293.5L772.8 1293.1L775.4 1290.7L778.0 1291.2L780.7 1290.5L783.3 1290.3L786.0 1290.9L788.7 1290.8L791.4 1291.0L794.1 1288.8L796.8 1288.9L799.6 1289.7L802.3 1289.3L805.1 1289.0L807.9 1288.9L810.7 1288.1L813.5 1289.2L816.3 1288.6L819.2 1288.0L822.1 1287.2L825.0 1287.4L827.9 1284.8L830.8 1286.1L833.8 1286.7L836.7 1285.0L839.7 1286.3L842.7 1285.9L845.7 1284.2L848.7 1284.7L851.8 1284.0L854.9 1283.9L858.0 1283.1L861.1 1281.5L864.2 1279.7L867.3 1279.4L870.5 1278.6L873.7 1278.6L876.9 1277.6L880.1 1276.0L883.4 1274.8L886.6 1275.1L889.9 1274.2L893.2 1273.2L896.6 1273.5L899.9 1272.5L903.3 1272.4L906.7 1272.1L910.1 1270.5L913.6 1272.2L917.0 1269.0L920.5 1269.3L924.0 1267.1L927.5 1266.5L931.1 1262.0L934.7 1262.3L938.3 1262.2L941.9 1261.5L945.5 1262.1L949.2 1259.1L952.9 1258.9L956.6 1257.4L960.4 1256.4L964.2 1254.9L968.0 1253.3L971.8 1252.9L975.7 1250.2L979.5 1251.3L983.4 1247.9L987.4 1247.7L991.3 1247.9L995.3 1243.8L999.3 1242.2L1003.4 1241.4L1007.5 1238.2L1011.6 1235.2L1015.7 1234.1L1019.8 1232.1L1024.0 1229.9L1028.3 1225.9L1032.5 1225.8L1036.8 1223.0L1041.1 1218.4L1045.5 1215.5L1049.8 1211.2L1054.2 1209.2L1058.7 1202.6L1063.2 1199.1L1067.7 1193.0L1072.2 1187.9L1076.8 1184.4L1081.4 1180.2L1086.0 1174.4L1090.7 1169.4L1095.4 1166.5L1100.2 1161.1L1105.0 1157.0L1109.8 1153.6L1114.7 1148.6L1119.6 1142.3L1124.5 1140.7L1129.5 1134.1L1134.5 1130.9L1139.5 1126.1L1144.6 1123.7" stroke="#000" stroke-width="12.8" stroke-linecap="butt"/>
<path d="M1144.6 1123.7L1149.8 1119.5L1154.9 1120.9L1160.2 1118.8L1165.4 1115.0L1170.7 1114.0L1176.1 1113.6L1181.5 1116.3L1186.9 1114.8L1192.4 1115.0L1197.9 1114.2L1203.5 1113.8L1209.1 1111.8L1214.7 1111.4L1220.4 1107.6L1226.2 1106.0L1232.0 1102.9L1237.8 1098.2L1243.7 1090.7L1249.7 1082.2L1255.7 1075.7L1261.8 1063.3L1267.9 1055.9L1274.0 1042.7" stroke="#000" stroke-width="14" stroke-linecap="round"/>
<path d="M1274.0 1042.7L1280.3 1026.3L1286.5 1012.2L1292.8 999.1L1299.2 985.7L1305.7 974.0L1312.2 961.8L1318.7 946.6L1325.3 931.1L1332.0 918.8L1338.7 896.1L1345.5 879.2L1352.4 866.9L1359.3 840.0L1366.3 823.5L1373.3 806.3L1380.5 792.2L1387.6 770.8L1394.9 745.9L1402.2 725.7L1405.8 714.4L1407.1 708.9L1406.8 699.9L1409.5 693.1L1410.8 687.9L1415.0 693.2L1420.8 696.8L1420.9 691.4L1422.6 684.7L1423.0 677.9L1423.2 671.8L1430.7 676.2L1430.5 669.2L1432.9 661.5L1433.4 656.2L1434.4 648.2L1440.6 650.6L1448.1 651.2L1450.2 643.1L1449.5 636.3L1451.2 629.6L1450.7 621.8L1457.6 622.3L1463.1 624.7L1466.9 629.8L1470.6 635.0L1470.5 629.7L1473.8 617.8L1474.9 612.7L1475.9 606.1L1476.8 598.2L1481.3 600.1L1488.1 602.6" stroke="#000" stroke-width="15.6" stroke-linecap="round"/>
<path d="M1488.1 602.6 h0.01" stroke="#000" stroke-width="15.6" stroke-linecap="round"/>
</g>
<g filter="url(#b2)">
<text transform="translate(445.30,1501.6) scale(1.18,1)" style="font-size:89.5px" text-anchor="middle">2</text>
<text transform="translate(756.85,1501.6) scale(1.18,1)" style="font-size:89.5px" text-anchor="middle">3</text>
<text transform="translate(1068.40,1501.6) scale(1.18,1)" style="font-size:89.5px" text-anchor="middle">4</text>
<text transform="translate(1379.95,1501.6) scale(1.18,1)" style="font-size:89.5px" text-anchor="middle">5</text>
<text transform="translate(1691.50,1501.6) scale(1.18,1)" style="font-size:89.5px" text-anchor="middle">6</text>
<text transform="translate(211.5,78.9) scale(1.18,1)" style="font-size:89.5px" text-anchor="end">2</text>
<text transform="translate(211.5,717.9) scale(1.18,1)" style="font-size:89.5px" text-anchor="end">1</text>
<text transform="translate(211.5,1356.8) scale(1.18,1)" style="font-size:89.5px" text-anchor="end">0</text>
<text transform="translate(1043.8,1590.5) scale(1.13,1)" style="font-size:90px" text-anchor="middle">Energy (eV)</text>
<text transform="translate(103.5,665) scale(1.18,1) rotate(-90)" style="font-size:86.5px" text-anchor="middle">F(R) (a. u.)</text>
<text transform="translate(608,221.2) scale(1.135,1)" style="font-size:90px">C<tspan style="font-size:77.4px" dy="6" dx="26">×</tspan><tspan dy="-6" dx="25">2.5</tspan></text>
<text transform="translate(608,325.6) scale(1.135,1)" style="font-size:90px">M<tspan style="font-size:77.4px" dy="6" dx="26">×</tspan><tspan dy="-6" dx="25">2.5</tspan></text>
<text transform="translate(608,429.6) scale(1.135,1)" style="font-size:90px">NH</text>
<text transform="translate(608,534.0) scale(1.135,1)" style="font-size:90px">NFe</text>
</g>
</svg></body></html>
